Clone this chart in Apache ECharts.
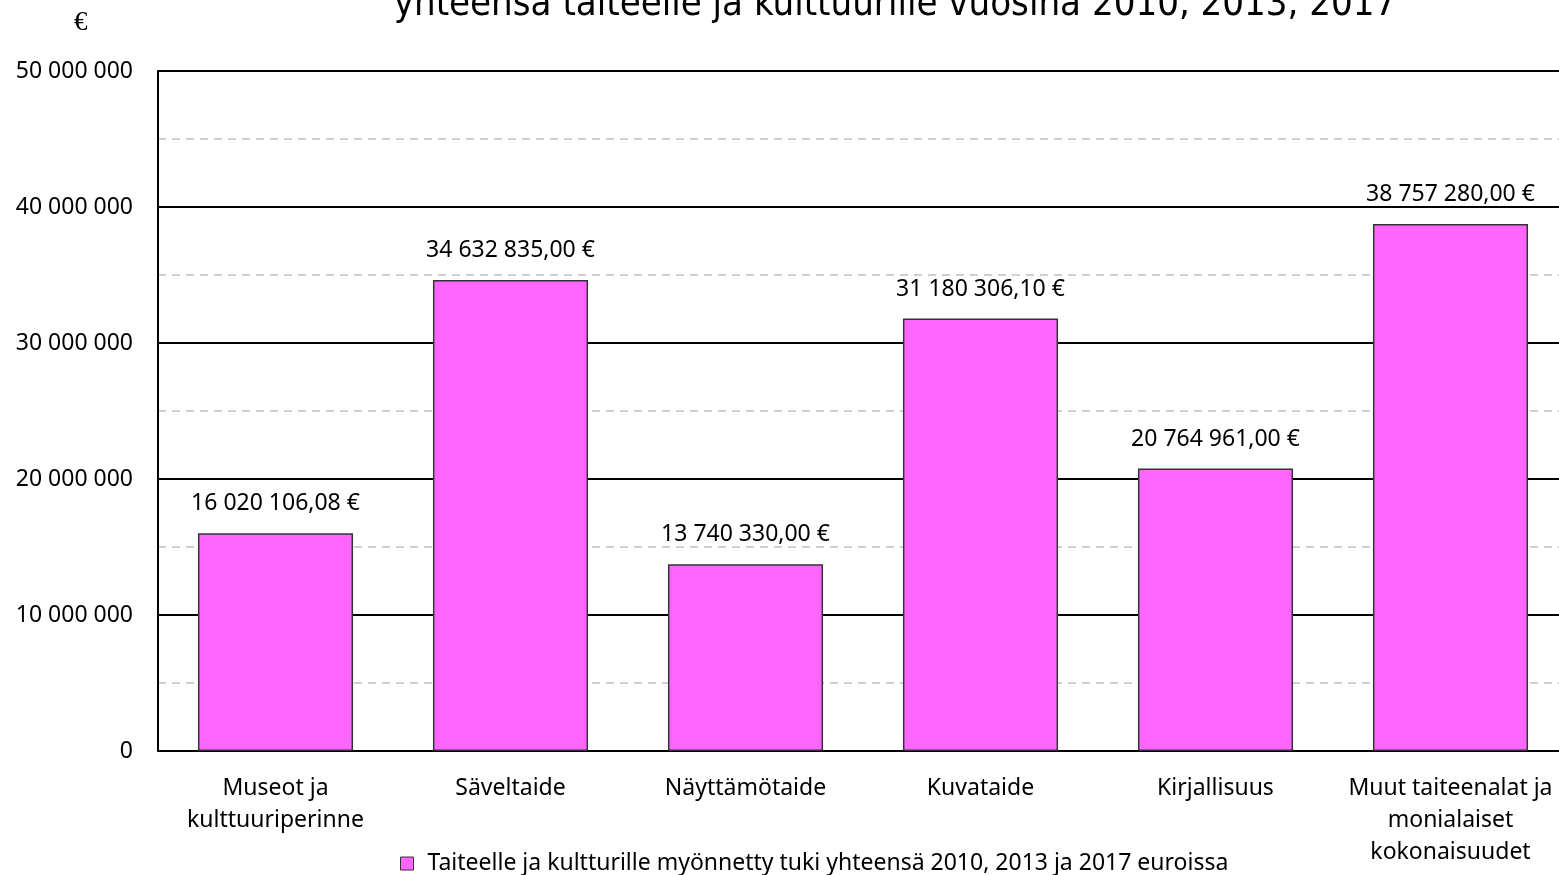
<!DOCTYPE html>
<html lang="fi">

<head>
  <meta charset="UTF-8">
  <script src="https://cdn.jsdelivr.net/npm/echarts@6/dist/echarts.min.js"></script>
</head>

<body style="margin:0;background:#fff">
  <div id="main" style="width:1559px;height:875px;"></div>
  <script type="text/javascript">

    // kategoriat
    const categories = [
      'Museot ja\nkulttuuriperinne',
      'Säveltaide',
      'Näyttämötaide',
      'Kuvataide',
      'Kirjallisuus',
      'Muut taiteenalat ja\nmonialaiset\nkokonaisuudet'
    ];
    // pylväiden korkeudet (luettu kuvasta)
    const values = [16020106.08, 34632835, 13740330, 31800000, 20764961, 38757280];
    // pylväiden päällä olevat tekstit
    const valueLabels = [
      '16 020 106,08 €',
      '34 632 835,00 €',
      '13 740 330,00 €',
      '31 180 306,10 €',
      '20 764 961,00 €',
      '38 757 280,00 €'
    ];
    const yTicks = [0, 10000000, 20000000, 30000000, 40000000, 50000000];
    const seriesName = 'Taiteelle ja kultturille myönnetty tuki yhteensä 2010, 2013 ja 2017 euroissa';

    const font = 'Noto Sans';

    function fmt(v) {
      return String(v).replace(/\B(?=(\d{3})+(?!\d))/g, ' ');
    }

    var myChart = echarts.init(document.getElementById('main'));
    myChart.setOption({
      animation: false,
      title: {
        text: 'yhteensä taiteelle ja kulttuurille vuosina 2010, 2013, 2017',
        left: 890,
        textAlign: 'center',
        top: -19,
        textStyle: {
          fontFamily: 'Liberation Sans Narrow, DejaVu Sans Condensed, sans-serif',
          fontSize: 38,
          fontWeight: 'normal',
          color: '#000'
        }
      },
      graphic: [{
        type: 'text',
        left: 74,
        top: 9,
        style: { text: '€', font: '27px "Liberation Serif", serif', fill: '#000' }
      }],
      legend: {
        left: 395,
        top: 847,
        icon: 'rect',
        itemWidth: 13,
        itemHeight: 13,
        itemGap: 10,
        itemStyle: { borderColor: '#333', borderWidth: 1 },
        textStyle: { fontFamily: font, fontSize: 23, color: '#000', padding: [0, 0, 0, 9] },
        data: [seriesName]
      },
      grid: {
        left: 158, width: 1410, top: 71, bottom: 124,
        containLabel: false, outerBoundsMode: 'none'
      },
      xAxis: {
        type: 'category',
        data: categories,
        axisLine: { lineStyle: { color: '#000', width: 2 } },
        axisTick: { show: false },
        axisLabel: {
          interval: 0,
          margin: 21,
          fontFamily: font,
          fontSize: 23,
          lineHeight: 32,
          color: '#000'
        }
      },
      yAxis: {
        type: 'value',
        min: 0,
        max: 50000000,
        interval: 10000000,
        axisLine: { show: true, lineStyle: { color: '#000', width: 2 } },
        axisTick: { show: false },
        axisLabel: {
          margin: 25,
          fontFamily: font,
          fontSize: 23,
          color: '#000',
          formatter: function (v) { return yTicks.indexOf(v) >= 0 ? fmt(v) : ''; }
        },
        splitLine: { lineStyle: { color: '#000', width: 2 } },
        minorTick: { show: false, splitNumber: 2 },
        minorSplitLine: { show: true, lineStyle: { color: '#bfbfbf', type: [8, 6], width: 1.5 } }
      },
      series: [{
        name: seriesName,
        type: 'bar',
        data: values,
        barCategoryGap: '34%',
        itemStyle: { color: '#ff66ff', borderColor: '#333', borderWidth: 1.5 },
        label: {
          show: true,
          position: 'top',
          distance: 18,
          fontFamily: font,
          fontSize: 23,
          color: '#000',
          formatter: function (p) { return valueLabels[p.dataIndex]; }
        }
      }]
    });
  </script>
</body>

</html>
